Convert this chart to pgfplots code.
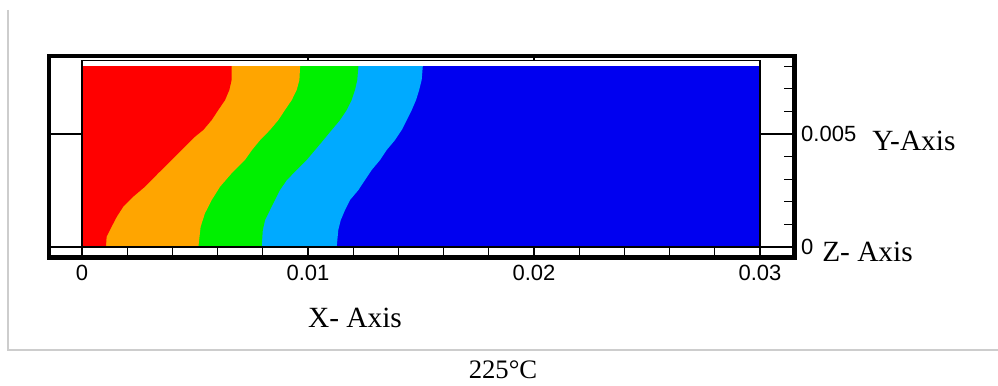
\documentclass[border=0pt]{standalone}
\usepackage{fontspec}
\setmainfont{Liberation Serif}
\newfontfamily\tickfont{Liberation Sans}
\usepackage{pgfplots}
\pgfplotsset{compat=1.18}
\definecolor{cred}{RGB}{255,0,0}
\definecolor{corange}{RGB}{255,165,0}
\definecolor{cgreen}{RGB}{0,240,0}
\definecolor{clblue}{RGB}{0,170,255}
\definecolor{cblue}{RGB}{0,0,240}
\definecolor{cframe}{RGB}{205,205,205}
\begin{document}
\begin{tikzpicture}[x=0.75pt,y=-0.75pt]
\path[use as bounding box] (0,0) rectangle (998,385);
\draw[cframe, line width=1.5pt] (8,10) -- (8,350) -- (998,350);
\begin{axis}[at={(36.75pt,-193.125pt)}, anchor=south west, scale only axis,
  width=559.125pt, height=151.125pt,
  xmin=-0.00146, xmax=0.031527, ymin=-0.000465, ymax=0.008451,
  axis line style={line width=3.5pt},
  xtick={0,0.01,0.02,0.03}, xticklabels={0,0.01,0.02,0.03},
  minor xtick={0.002,0.004,0.006,0.008,0.012,0.014,0.016,0.018,0.022,0.024,0.026,0.028},
  ytick={0,0.005}, yticklabels={0,0.005},
  minor ytick={0.001,0.002,0.003,0.004,0.006,0.007,0.008},
  xtick pos=bottom, ytick pos=right, yticklabel pos=right,
  tick align=inside,
  major tick length=7.9pt, minor tick length=7.9pt,
  major tick style={line width=2pt,black}, minor tick style={line width=1pt,black},
  scaled x ticks=false, scaled y ticks=false,
  ticklabel style={font=\tickfont\fontsize{16.5}{16.5}\selectfont},
  xticklabel style={yshift=-2.5pt}, yticklabel style={xshift=1.5pt},
  axis on top,
]
% blue background region
\addplot[draw=none, fill=cblue] coordinates {(0,0) (0.03,0) (0.03,0.008) (0,0.008)} -- cycle;
% light blue
\addplot[draw=none, fill=clblue] coordinates {
 (0,0.008) (0.01508,0.008) (0.01503,0.00739) (0.01492,0.00695) (0.01478,0.0065)
 (0.01459,0.00606) (0.01437,0.00562) (0.01415,0.00518) (0.01385,0.00473)
 (0.01348,0.00429) (0.01319,0.00385) (0.01282,0.00341) (0.01252,0.00296)
 (0.01223,0.00252) (0.01186,0.00208) (0.01164,0.00164) (0.01145,0.00119)
 (0.01134,0.00075) (0.01127,0) (0,0)} -- cycle;
% green
\addplot[draw=none, fill=cgreen] coordinates {
 (0,0.008) (0.01223,0.008) (0.01218,0.00739) (0.01208,0.00695) (0.01193,0.0065)
 (0.01171,0.00606) (0.01142,0.00562) (0.01105,0.00518) (0.01068,0.00473)
 (0.01031,0.00429) (0.00994,0.00385) (0.0095,0.00341) (0.00906,0.00296)
 (0.00876,0.00252) (0.00854,0.00208) (0.00832,0.00164) (0.0081,0.00119)
 (0.008,0.00075) (0.00795,0) (0,0)} -- cycle;
% orange
\addplot[draw=none, fill=corange] coordinates {
 (0,0.008) (0.00965,0.008) (0.00962,0.00739) (0.0095,0.00695) (0.00928,0.0065)
 (0.00898,0.00606) (0.00869,0.00562) (0.00832,0.00518) (0.00788,0.00473)
 (0.00752,0.00429) (0.00721,0.00385) (0.00662,0.00326) (0.00611,0.00267)
 (0.00574,0.00208) (0.00544,0.00149) (0.00525,0.0009) (0.00515,0) (0,0)} -- cycle;
% red
\addplot[draw=none, fill=cred] coordinates {
 (0,0.008) (0.00662,0.008) (0.00662,0.00739) (0.00652,0.00695) (0.00633,0.0065)
 (0.00603,0.00606) (0.00574,0.00562) (0.00537,0.00518) (0.005,0.00488)
 (0.00456,0.00444) (0.00397,0.00385) (0.00337,0.00326) (0.00279,0.00267)
 (0.00227,0.00223) (0.00183,0.00179) (0.00154,0.00134) (0.00131,0.0009)
 (0.00109,0.00046) (0.00106,0) (0,0)} -- cycle;
% inner frame and strip ticks
\draw[line width=0.8pt] (axis cs:0,0) -- (axis cs:0,0.00825) -- (axis cs:0.03,0.00825) -- (axis cs:0.03,0);
\draw[line width=1.3pt] (axis cs:-0.00146,0) -- (axis cs:0.031527,0);
\draw[line width=1pt] (axis cs:-0.00146,0.005) -- (axis cs:0,0.005);
\draw[line width=1pt] (axis cs:0.03,0.005) -- (axis cs:0.031527,0.005);
\draw[line width=1pt] (axis cs:0.01,0.00825) -- (axis cs:0.01,0.008451);
\draw[line width=1pt] (axis cs:0.02,0.00825) -- (axis cs:0.02,0.008451);
\end{axis}
\node[anchor=base, font=\fontsize{22}{22}\selectfont, inner sep=0pt] at (355,327) {X- Axis};
\node[anchor=base west, font=\fontsize{22}{22}\selectfont, inner sep=0pt] at (872,150) {Y-Axis};
\node[anchor=base west, font=\fontsize{22}{22}\selectfont, inner sep=0pt] at (822,261) {Z- Axis};
\node[anchor=base, font=\fontsize{20}{20}\selectfont, inner sep=0pt] at (503,378) {225°C};
\end{tikzpicture}
\end{document}
